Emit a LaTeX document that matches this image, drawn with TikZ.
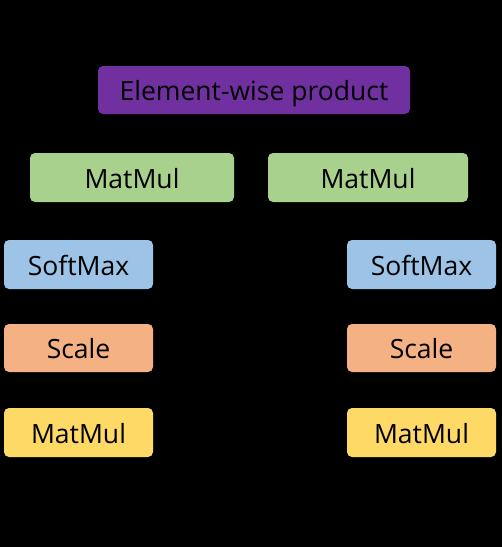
\documentclass[tikz,border=0pt]{standalone}
\usepackage{fontspec}
\setmainfont{Open Sans}
\definecolor{cpurple}{HTML}{7030A0}
\definecolor{cgreen}{HTML}{A9D18E}
\definecolor{cblue}{HTML}{9DC3E6}
\definecolor{corange}{HTML}{F4B183}
\definecolor{cyellow}{HTML}{FFD966}
\begin{document}
\begin{tikzpicture}[x=1pt,y=-1pt,
  box/.style={rounded corners=5pt, inner sep=0pt, text height=21pt, text depth=0pt,
    font=\fontsize{26.5}{30}\selectfont, text=black}]
\fill[black] (0,0) rectangle (502,547);
\useasboundingbox (0,0) rectangle (502,547);
\node[box, fill=cpurple, minimum width=312pt, minimum height=48pt] (ew) at (254,90) {Element-wise product};
\node[box, fill=cgreen, minimum width=204pt, minimum height=49pt] (mmL) at (132,177.5) {MatMul};
\node[box, fill=cgreen, minimum width=200pt, minimum height=49pt] (mmR) at (368,177.5) {MatMul};
\node[box, fill=cblue, minimum width=149pt, minimum height=49pt] (smL) at (78.5,264.5) {SoftMax};
\node[box, fill=cblue, minimum width=149pt, minimum height=49pt] (smR) at (421.5,264.5) {SoftMax};
\node[box, fill=corange, minimum width=149pt, minimum height=48pt] (scL) at (78.5,348) {Scale};
\node[box, fill=corange, minimum width=149pt, minimum height=48pt] (scR) at (421.5,348) {Scale};
\node[box, fill=cyellow, minimum width=149pt, minimum height=49pt] (mL) at (78.5,432.5) {MatMul};
\node[box, fill=cyellow, minimum width=149pt, minimum height=49pt] (mR) at (421.5,432.5) {MatMul};
\end{tikzpicture}
\end{document}
